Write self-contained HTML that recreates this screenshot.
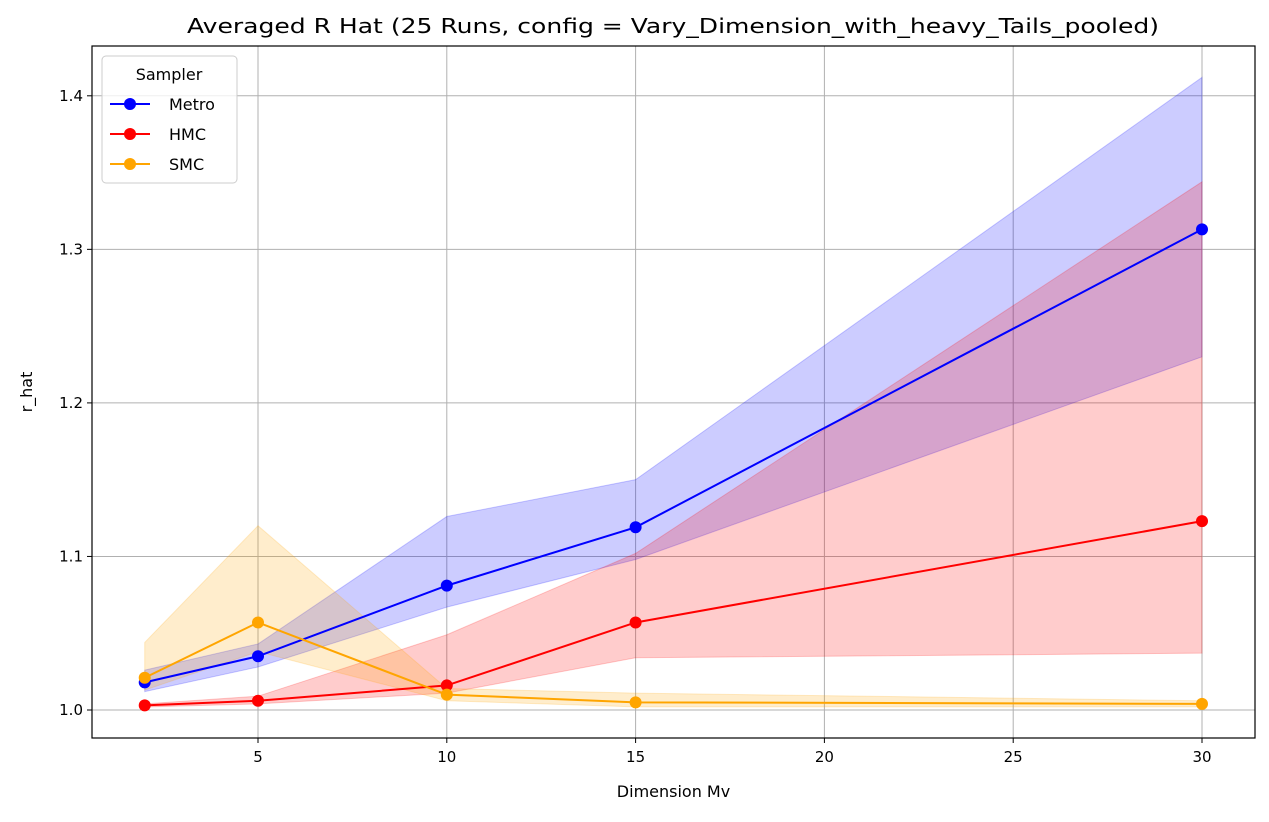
<!DOCTYPE html>
<html><head><meta charset="utf-8"><style>
body{margin:0;background:#fff}
svg text{font-family:"DejaVu Sans","Liberation Sans",sans-serif;fill:#000}
</style></head><body>
<svg id="c" width="1269" height="817" xmlns="http://www.w3.org/2000/svg"></svg>
<script>
const dims=[2,5,10,15,30];
const metroMean=[1.018,1.035,1.081,1.119,1.313];
const metroLow=[1.012,1.028,1.067,1.098,1.230];
const metroHigh=[1.026,1.043,1.126,1.150,1.412];
const hmcMean=[1.003,1.006,1.016,1.057,1.123];
const hmcLow=[1.002,1.004,1.011,1.034,1.037];
const hmcHigh=[1.004,1.009,1.049,1.102,1.344];
const smcMean=[1.021,1.057,1.010,1.005,1.004];
const smcLow=[1.013,1.038,1.006,1.002,1.002];
const smcHigh=[1.044,1.120,1.014,1.011,1.006];
const xTicks=[5,10,15,20,25,30];
const yTicks=[1.0,1.1,1.2,1.3,1.4];
const yTickLabels=["1.0","1.1","1.2","1.3","1.4"];

const svg=document.getElementById('c');
const NS="http://www.w3.org/2000/svg";
const L=92,R=1255,T=46,B=738;
const X=v=>258+(v-5)*(1202-258)/25;
const Y=v=>710-(v-1.0)*1535.5;
function mk(tag,attrs,parent){const e=document.createElementNS(NS,tag);for(const k in attrs)e.setAttribute(k,attrs[k]);(parent||svg).appendChild(e);return e;}

xTicks.forEach(t=>{
  const g=mk('line',{x1:X(t),x2:X(t),y1:T,y2:B,stroke:'#b0b0b0','stroke-width':1});
  
  
  mk('line',{x1:X(t),x2:X(t),y1:B,y2:B+5,stroke:'#000'});
  const tx=mk('text',{x:X(t),y:B+24,'text-anchor':'middle','font-size':15});
  tx.textContent=t;
  
  
});
yTicks.forEach((t,i)=>{
  const g=mk('line',{x1:L,x2:R,y1:Y(t),y2:Y(t),stroke:'#b0b0b0','stroke-width':1});
  
  
  mk('line',{x1:L-5,x2:L,y1:Y(t),y2:Y(t),stroke:'#000'});
  const tx=mk('text',{x:L-9,y:Y(t)+5,'text-anchor':'end','font-size':15});
  tx.textContent=yTickLabels[i];
  
  
});

function band(lo,hi,color,name){
  let d='M'+dims.map((x,i)=>X(x)+','+Y(hi[i])).join('L');
  for(let i=dims.length-1;i>=0;i--)d+='L'+X(dims[i])+','+Y(lo[i]);
  const p=mk('path',{d:d+'Z',fill:color,'fill-opacity':0.2,stroke:color,'stroke-opacity':0.2});
  
  
}
function series(m,color,name){
  const p=mk('polyline',{points:dims.map((x,i)=>X(x)+','+Y(m[i])).join(' '),fill:'none',stroke:color,'stroke-width':2});
  
  
  dims.forEach((x,i)=>{
    const c=mk('circle',{cx:X(x),cy:Y(m[i]),r:6,fill:color});
    
    
  });
}
band(metroLow,metroHigh,'#0000ff','metro-band');
band(hmcLow,hmcHigh,'#ff0000','hmc-band');
band(smcLow,smcHigh,'#ffa500','smc-band');
series(metroMean,'#0000ff','metro');
series(hmcMean,'#ff0000','hmc');
series(smcMean,'#ffa500','smc');

const fr=mk('rect',{x:L,y:T,width:R-L,height:B-T,fill:'none',stroke:'#000','stroke-width':1.2});



const title=mk('text',{x:187,y:33,'font-size':20,textLength:972,lengthAdjust:'spacingAndGlyphs'});
title.textContent='Averaged R Hat (25 Runs, config = Vary_Dimension_with_heavy_Tails_pooled)';


const xl=mk('text',{x:(L+R)/2,y:797,'text-anchor':'middle','font-size':16});
xl.textContent='Dimension Mv';


const yl=mk('text',{x:32,y:(T+B)/2,'text-anchor':'middle','font-size':16,transform:'rotate(-90 32 '+(T+B)/2+')'});
yl.textContent='r_hat';



const lg=mk('g',{});


mk('rect',{x:102,y:56,width:135,height:127,rx:4,fill:'#fff','fill-opacity':0.8,stroke:'#ccc'},lg);
const lt=mk('text',{x:169,y:80,'text-anchor':'middle','font-size':16},lg);
lt.textContent='Sampler';
[['Metro','#0000ff',104],['HMC','#ff0000',134],['SMC','#ffa500',164]].forEach(([n,c,y])=>{
  const e=mk('g',{},lg);
  
  
  mk('line',{x1:110,x2:150,y1:y,y2:y,stroke:c,'stroke-width':2},e);
  mk('circle',{cx:130,cy:y,r:6,fill:c},e);
  const t=mk('text',{x:169,y:y+6,'font-size':16},e);t.textContent=n;
});
</script>
</body></html>
